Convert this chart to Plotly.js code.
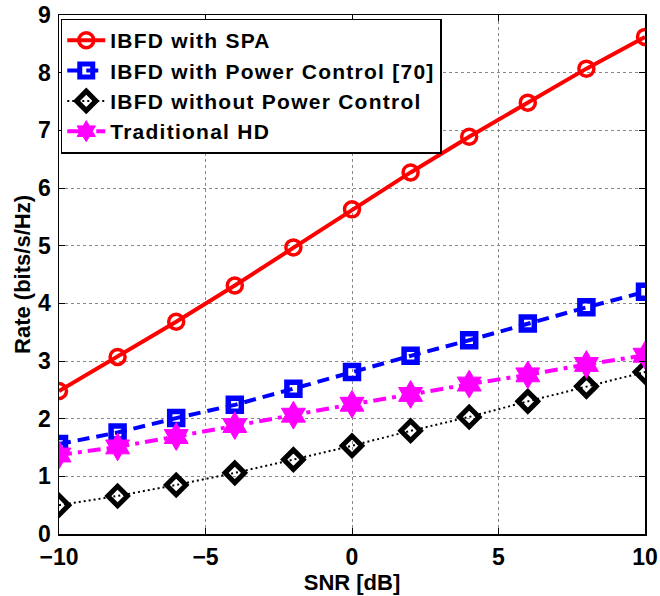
<!DOCTYPE html>
<html><head><meta charset="utf-8">
<script src="https://cdn.plot.ly/plotly-3.0.1.min.js"></script>
<style>body{margin:0;padding:0;background:#fff}#chart{width:660px;height:596px}
.legendtext{letter-spacing:1.25px}</style>
</head><body><div id="chart"></div>
<script>
const snr = [-10, -8, -6, -4, -2, 0, 2, 4, 6, 8, 10];
const ibfdSPA = [2.48, 3.07, 3.68, 4.31, 4.97, 5.63, 6.27, 6.89, 7.48, 8.07, 8.62];
const ibfdPC = [1.56, 1.76, 2.01, 2.24, 2.52, 2.81, 3.09, 3.36, 3.65, 3.93, 4.20];
const ibfdNoPC = [0.50, 0.66, 0.85, 1.06, 1.29, 1.53, 1.79, 2.03, 2.30, 2.56, 2.81];
const tradHD = [1.37, 1.51, 1.69, 1.88, 2.06, 2.25, 2.42, 2.60, 2.76, 2.94, 3.10];
const names = ['IBFD with SPA', 'IBFD with Power Control [70]', 'IBFD without Power Control', 'Traditional HD'];
const xTicks = [-10, -5, 0, 5, 10];
const xTickText = ['\u221210', '\u22125', '0', '5', '10'];
const yTicks = [0, 1, 2, 3, 4, 5, 6, 7, 8, 9];

const FONT = 'Liberation Sans, Arial, Helvetica, sans-serif';

const traces = [
  {x: snr, y: ibfdSPA, name: names[0], mode: 'lines+markers', type: 'scatter',
   line: {color: '#ff0000', width: 4, dash: 'solid'},
   marker: {symbol: 'circle-open', size: 15, color: '#ff0000', line: {width: 3.5, color: '#ff0000'}}},
  {x: snr, y: ibfdPC, name: names[1], mode: 'lines+markers', type: 'scatter',
   line: {color: '#0000ff', width: 4, dash: '12px,7px'},
   marker: {symbol: 'square-open', size: 13, color: '#0000ff', line: {width: 5.5, color: '#0000ff'}}},
  {x: snr, y: ibfdNoPC, name: names[2], mode: 'lines+markers', type: 'scatter',
   line: {color: '#000000', width: 2, dash: '2px,3px'},
   marker: {symbol: 'diamond-open', size: 15, color: '#000000', line: {width: 5, color: '#000000'}}},
  {x: snr, y: tradHD, name: names[3], mode: 'lines+markers', type: 'scatter',
   line: {color: '#ff00ff', width: 4, dash: '13px,6px,4px,6px'},
   marker: {symbol: 'hexagram', size: 21, color: '#ff00ff', line: {width: 1, color: '#ff00ff'}}}
];

const axisCommon = {
  showline: true, mirror: 'ticks', linecolor: '#000', linewidth: 1.5,
  ticks: 'inside', ticklen: 6, tickcolor: '#000', tickwidth: 1,
  showgrid: true, gridcolor: '#888', griddash: 'dot', gridwidth: 1,
  zeroline: false,
  tickfont: {family: FONT, size: 23, color: '#000', weight: 'bold'}
};

const layout = {
  width: 660, height: 596,
  margin: {l: 59, r: 15, t: 15, b: 62},
  paper_bgcolor: '#fff', plot_bgcolor: '#fff',
  font: {family: FONT, color: '#000'},
  showlegend: true,
  legend: {
    x: 0.003, y: 0.993, xanchor: 'left', yanchor: 'top',
    bgcolor: '#fff', bordercolor: '#000', borderwidth: 1.5,
    font: {family: FONT, size: 21, color: '#000', weight: 'bold'},
    tracegroupgap: 0, itemwidth: 38
  },
  xaxis: Object.assign({}, axisCommon, {
    range: [-10, 10], tickvals: xTicks, ticktext: xTickText, ticklabelstandoff: 2,
    title: {text: 'SNR [dB]', standoff: 0, font: {family: FONT, size: 22, color: '#000', weight: 'bold'}}
  }),
  yaxis: Object.assign({}, axisCommon, {
    range: [0, 9], tickvals: yTicks, ticklabelstandoff: 2,
    title: {text: 'Rate (bits/s/Hz)', standoff: 1, font: {family: FONT, size: 22, color: '#000', weight: 'bold'}}
  })
};

Plotly.newPlot('chart', traces, layout, {displayModeBar: false, staticPlot: true});
</script>
</body></html>
